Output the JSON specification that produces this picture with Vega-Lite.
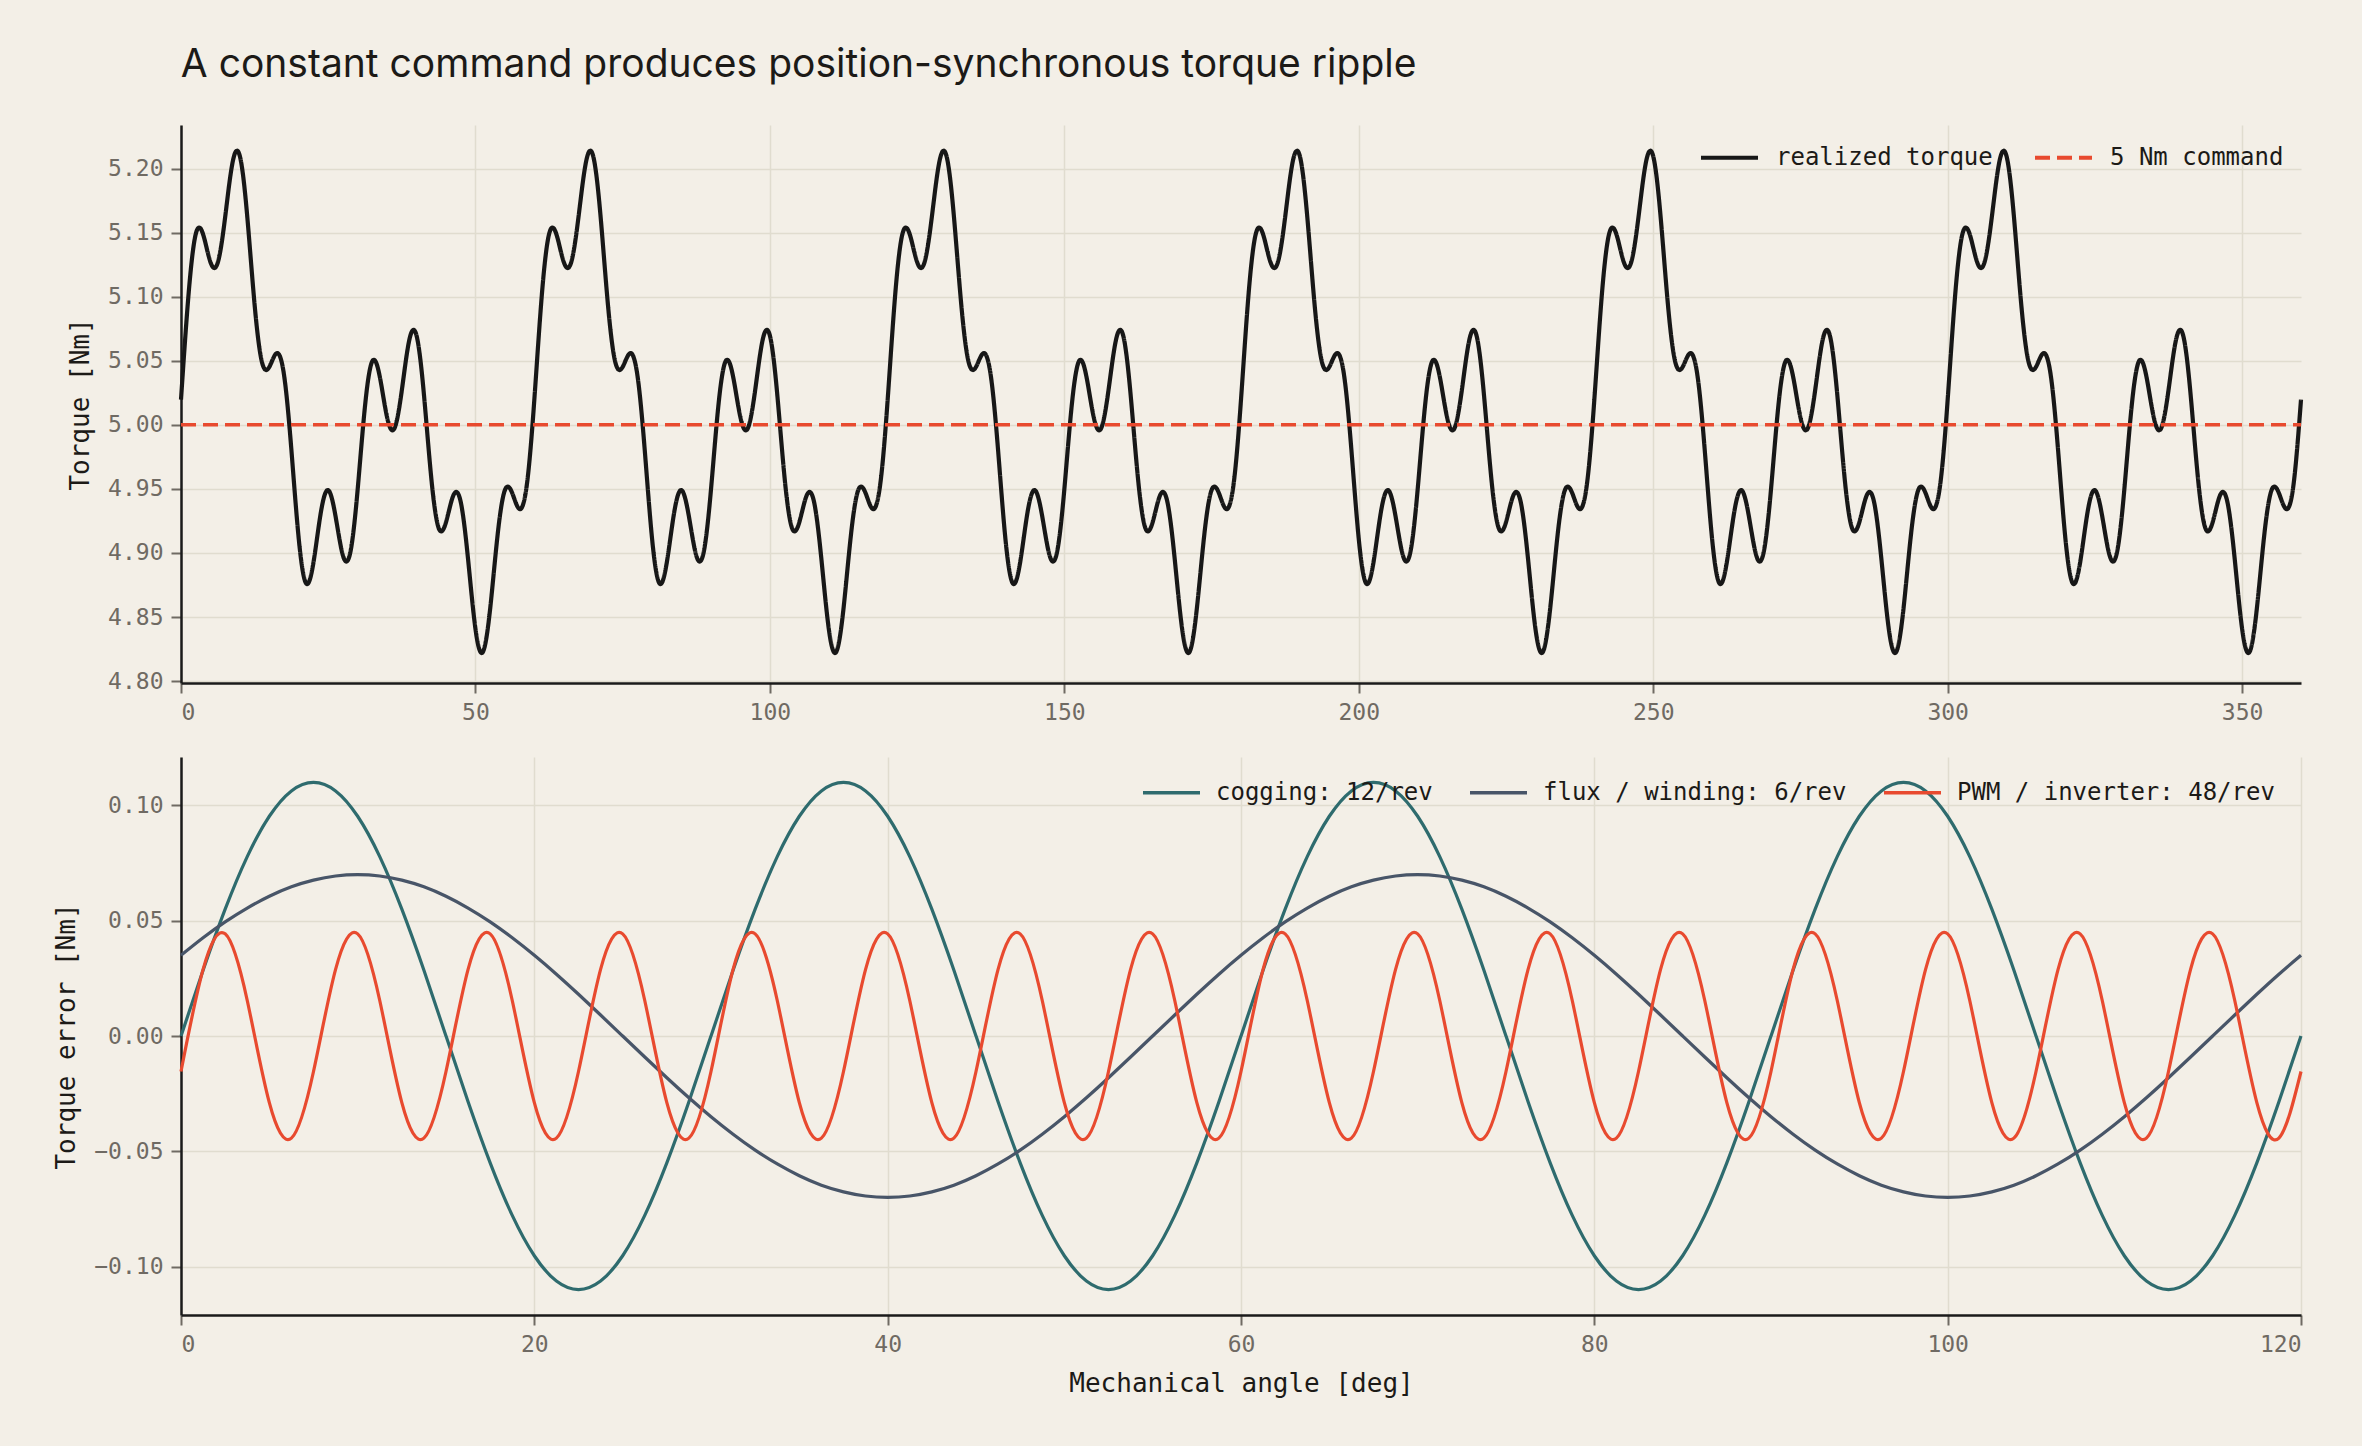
{
  "$schema": "https://vega.github.io/schema/vega-lite/v6.json",
  "background": "#f3efe7",
  "padding": {"left": 53, "top": 46, "right": 52, "bottom": 50},
  "title": {
    "text": "A constant command produces position-synchronous torque ripple",
    "anchor": "start",
    "font": "Inter",
    "fontSize": 39,
    "fontWeight": "normal",
    "color": "#1c1a17",
    "offset": 40,
    "dx": 127
  },
  "datasets": {
    "torque": [
      {"a":0,"t":5.0196},{"a":1.25,"t":5.1},{"a":2.5,"t":5.1488},{"a":3.75,"t":5.1487},{"a":5,"t":5.127},{"a":6.25,"t":5.1267},{"a":7.5,"t":5.1622},{"a":8.75,"t":5.2046},{"a":10,"t":5.2096},{"a":11.25,"t":5.1626},{"a":12.5,"t":5.0937},{"a":13.75,"t":5.0489},{"a":15,"t":5.0452},{"a":16.25,"t":5.0559},{"a":17.5,"t":5.0388},{"a":18.75,"t":4.9802},{"a":20,"t":4.9108},{"a":21.25,"t":4.8762},{"a":22.5,"t":4.8927},{"a":23.75,"t":4.9317},{"a":25,"t":4.949},{"a":26.25,"t":4.9285},{"a":27.5,"t":4.898},{"a":28.75,"t":4.9004},{"a":30,"t":4.9496},{"a":31.25,"t":5.0148},{"a":32.5,"t":5.0498},{"a":33.75,"t":5.0377},{"a":35,"t":5.0058},{"a":36.25,"t":4.9973},{"a":37.5,"t":5.027},{"a":38.75,"t":5.0658},{"a":40,"t":5.0696},{"a":41.25,"t":5.0238},{"a":42.5,"t":4.9585},{"a":43.75,"t":4.9195},{"a":45,"t":4.924},{"a":46.25,"t":4.9449},{"a":47.5,"t":4.9398},{"a":48.75,"t":4.895},{"a":50,"t":4.8408},{"a":51.25,"t":4.8226},{"a":52.5,"t":4.8565},{"a":53.75,"t":4.9135},{"a":55,"t":4.949},{"a":56.25,"t":4.9467},{"a":57.5,"t":4.9342},{"a":58.75,"t":4.954},
      {"a":60,"t":5.0196},{"a":61.25,"t":5.1},{"a":62.5,"t":5.1488},{"a":63.75,"t":5.1487},{"a":65,"t":5.127},{"a":66.25,"t":5.1267},{"a":67.5,"t":5.1622},{"a":68.75,"t":5.2046},{"a":70,"t":5.2096},{"a":71.25,"t":5.1626},{"a":72.5,"t":5.0937},{"a":73.75,"t":5.0489},{"a":75,"t":5.0452},{"a":76.25,"t":5.0559},{"a":77.5,"t":5.0388},{"a":78.75,"t":4.9802},{"a":80,"t":4.9108},{"a":81.25,"t":4.8762},{"a":82.5,"t":4.8927},{"a":83.75,"t":4.9317},{"a":85,"t":4.949},{"a":86.25,"t":4.9285},{"a":87.5,"t":4.898},{"a":88.75,"t":4.9004},{"a":90,"t":4.9496},{"a":91.25,"t":5.0148},{"a":92.5,"t":5.0498},{"a":93.75,"t":5.0377},{"a":95,"t":5.0058},{"a":96.25,"t":4.9973},{"a":97.5,"t":5.027},{"a":98.75,"t":5.0658},{"a":100,"t":5.0696},{"a":101.25,"t":5.0238},{"a":102.5,"t":4.9585},{"a":103.75,"t":4.9195},{"a":105,"t":4.924},{"a":106.25,"t":4.9449},{"a":107.5,"t":4.9398},{"a":108.75,"t":4.895},{"a":110,"t":4.8408},{"a":111.25,"t":4.8226},{"a":112.5,"t":4.8565},{"a":113.75,"t":4.9135},{"a":115,"t":4.949},{"a":116.25,"t":4.9467},{"a":117.5,"t":4.9342},{"a":118.75,"t":4.954},
      {"a":120,"t":5.0196},{"a":121.25,"t":5.1},{"a":122.5,"t":5.1488},{"a":123.75,"t":5.1487},{"a":125,"t":5.127},{"a":126.25,"t":5.1267},{"a":127.5,"t":5.1622},{"a":128.75,"t":5.2046},{"a":130,"t":5.2096},{"a":131.25,"t":5.1626},{"a":132.5,"t":5.0937},{"a":133.75,"t":5.0489},{"a":135,"t":5.0452},{"a":136.25,"t":5.0559},{"a":137.5,"t":5.0388},{"a":138.75,"t":4.9802},{"a":140,"t":4.9108},{"a":141.25,"t":4.8762},{"a":142.5,"t":4.8927},{"a":143.75,"t":4.9317},{"a":145,"t":4.949},{"a":146.25,"t":4.9285},{"a":147.5,"t":4.898},{"a":148.75,"t":4.9004},{"a":150,"t":4.9496},{"a":151.25,"t":5.0148},{"a":152.5,"t":5.0498},{"a":153.75,"t":5.0377},{"a":155,"t":5.0058},{"a":156.25,"t":4.9973},{"a":157.5,"t":5.027},{"a":158.75,"t":5.0658},{"a":160,"t":5.0696},{"a":161.25,"t":5.0238},{"a":162.5,"t":4.9585},{"a":163.75,"t":4.9195},{"a":165,"t":4.924},{"a":166.25,"t":4.9449},{"a":167.5,"t":4.9398},{"a":168.75,"t":4.895},{"a":170,"t":4.8408},{"a":171.25,"t":4.8226},{"a":172.5,"t":4.8565},{"a":173.75,"t":4.9135},{"a":175,"t":4.949},{"a":176.25,"t":4.9467},{"a":177.5,"t":4.9342},{"a":178.75,"t":4.954},
      {"a":180,"t":5.0196},{"a":181.25,"t":5.1},{"a":182.5,"t":5.1488},{"a":183.75,"t":5.1487},{"a":185,"t":5.127},{"a":186.25,"t":5.1267},{"a":187.5,"t":5.1622},{"a":188.75,"t":5.2046},{"a":190,"t":5.2096},{"a":191.25,"t":5.1626},{"a":192.5,"t":5.0937},{"a":193.75,"t":5.0489},{"a":195,"t":5.0452},{"a":196.25,"t":5.0559},{"a":197.5,"t":5.0388},{"a":198.75,"t":4.9802},{"a":200,"t":4.9108},{"a":201.25,"t":4.8762},{"a":202.5,"t":4.8927},{"a":203.75,"t":4.9317},{"a":205,"t":4.949},{"a":206.25,"t":4.9285},{"a":207.5,"t":4.898},{"a":208.75,"t":4.9004},{"a":210,"t":4.9496},{"a":211.25,"t":5.0148},{"a":212.5,"t":5.0498},{"a":213.75,"t":5.0377},{"a":215,"t":5.0058},{"a":216.25,"t":4.9973},{"a":217.5,"t":5.027},{"a":218.75,"t":5.0658},{"a":220,"t":5.0696},{"a":221.25,"t":5.0238},{"a":222.5,"t":4.9585},{"a":223.75,"t":4.9195},{"a":225,"t":4.924},{"a":226.25,"t":4.9449},{"a":227.5,"t":4.9398},{"a":228.75,"t":4.895},{"a":230,"t":4.8408},{"a":231.25,"t":4.8226},{"a":232.5,"t":4.8565},{"a":233.75,"t":4.9135},{"a":235,"t":4.949},{"a":236.25,"t":4.9467},{"a":237.5,"t":4.9342},{"a":238.75,"t":4.954},
      {"a":240,"t":5.0196},{"a":241.25,"t":5.1},{"a":242.5,"t":5.1488},{"a":243.75,"t":5.1487},{"a":245,"t":5.127},{"a":246.25,"t":5.1267},{"a":247.5,"t":5.1622},{"a":248.75,"t":5.2046},{"a":250,"t":5.2096},{"a":251.25,"t":5.1626},{"a":252.5,"t":5.0937},{"a":253.75,"t":5.0489},{"a":255,"t":5.0452},{"a":256.25,"t":5.0559},{"a":257.5,"t":5.0388},{"a":258.75,"t":4.9802},{"a":260,"t":4.9108},{"a":261.25,"t":4.8762},{"a":262.5,"t":4.8927},{"a":263.75,"t":4.9317},{"a":265,"t":4.949},{"a":266.25,"t":4.9285},{"a":267.5,"t":4.898},{"a":268.75,"t":4.9004},{"a":270,"t":4.9496},{"a":271.25,"t":5.0148},{"a":272.5,"t":5.0498},{"a":273.75,"t":5.0377},{"a":275,"t":5.0058},{"a":276.25,"t":4.9973},{"a":277.5,"t":5.027},{"a":278.75,"t":5.0658},{"a":280,"t":5.0696},{"a":281.25,"t":5.0238},{"a":282.5,"t":4.9585},{"a":283.75,"t":4.9195},{"a":285,"t":4.924},{"a":286.25,"t":4.9449},{"a":287.5,"t":4.9398},{"a":288.75,"t":4.895},{"a":290,"t":4.8408},{"a":291.25,"t":4.8226},{"a":292.5,"t":4.8565},{"a":293.75,"t":4.9135},{"a":295,"t":4.949},{"a":296.25,"t":4.9467},{"a":297.5,"t":4.9342},{"a":298.75,"t":4.954},
      {"a":300,"t":5.0196},{"a":301.25,"t":5.1},{"a":302.5,"t":5.1488},{"a":303.75,"t":5.1487},{"a":305,"t":5.127},{"a":306.25,"t":5.1267},{"a":307.5,"t":5.1622},{"a":308.75,"t":5.2046},{"a":310,"t":5.2096},{"a":311.25,"t":5.1626},{"a":312.5,"t":5.0937},{"a":313.75,"t":5.0489},{"a":315,"t":5.0452},{"a":316.25,"t":5.0559},{"a":317.5,"t":5.0388},{"a":318.75,"t":4.9802},{"a":320,"t":4.9108},{"a":321.25,"t":4.8762},{"a":322.5,"t":4.8927},{"a":323.75,"t":4.9317},{"a":325,"t":4.949},{"a":326.25,"t":4.9285},{"a":327.5,"t":4.898},{"a":328.75,"t":4.9004},{"a":330,"t":4.9496},{"a":331.25,"t":5.0148},{"a":332.5,"t":5.0498},{"a":333.75,"t":5.0377},{"a":335,"t":5.0058},{"a":336.25,"t":4.9973},{"a":337.5,"t":5.027},{"a":338.75,"t":5.0658},{"a":340,"t":5.0696},{"a":341.25,"t":5.0238},{"a":342.5,"t":4.9585},{"a":343.75,"t":4.9195},{"a":345,"t":4.924},{"a":346.25,"t":4.9449},{"a":347.5,"t":4.9398},{"a":348.75,"t":4.895},{"a":350,"t":4.8408},{"a":351.25,"t":4.8226},{"a":352.5,"t":4.8565},{"a":353.75,"t":4.9135},{"a":355,"t":4.949},{"a":356.25,"t":4.9467},{"a":357.5,"t":4.9342},{"a":358.75,"t":4.954},
      {"a":360,"t":5.0196}
    ],
    "command": [{"a":0,"t":5},{"a":360,"t":5}],
    "parts": [
      {"a":0,"c":0,"f":0.035,"p":-0.0154},{"a":1.25,"c":0.0285,"f":0.0426,"p":0.0289},{"a":2.5,"c":0.055,"f":0.0495,"p":0.0443},{"a":3.75,"c":0.0778,"f":0.0555,"p":0.0154},{"a":5,"c":0.0953,"f":0.0606,"p":-0.0289},{"a":6.25,"c":0.1063,"f":0.0647,"p":-0.0443},{"a":7.5,"c":0.11,"f":0.0676,"p":-0.0154},{"a":8.75,"c":0.1063,"f":0.0694,"p":0.0289},{"a":10,"c":0.0953,"f":0.07,"p":0.0443},{"a":11.25,"c":0.0778,"f":0.0694,"p":0.0154},{"a":12.5,"c":0.055,"f":0.0676,"p":-0.0289},{"a":13.75,"c":0.0285,"f":0.0647,"p":-0.0443},{"a":15,"c":0,"f":0.0606,"p":-0.0154},{"a":16.25,"c":-0.0285,"f":0.0555,"p":0.0289},{"a":17.5,"c":-0.055,"f":0.0495,"p":0.0443},{"a":18.75,"c":-0.0778,"f":0.0426,"p":0.0154},{"a":20,"c":-0.0953,"f":0.035,"p":-0.0289},{"a":21.25,"c":-0.1063,"f":0.0268,"p":-0.0443},{"a":22.5,"c":-0.11,"f":0.0181,"p":-0.0154},{"a":23.75,"c":-0.1063,"f":0.0091,"p":0.0289},{"a":25,"c":-0.0953,"f":0,"p":0.0443},{"a":26.25,"c":-0.0778,"f":-0.0091,"p":0.0154},{"a":27.5,"c":-0.055,"f":-0.0181,"p":-0.0289},{"a":28.75,"c":-0.0285,"f":-0.0268,"p":-0.0443},{"a":30,"c":0,"f":-0.035,"p":-0.0154},{"a":31.25,"c":0.0285,"f":-0.0426,"p":0.0289},{"a":32.5,"c":0.055,"f":-0.0495,"p":0.0443},{"a":33.75,"c":0.0778,"f":-0.0555,"p":0.0154},{"a":35,"c":0.0953,"f":-0.0606,"p":-0.0289},{"a":36.25,"c":0.1063,"f":-0.0647,"p":-0.0443},{"a":37.5,"c":0.11,"f":-0.0676,"p":-0.0154},{"a":38.75,"c":0.1063,"f":-0.0694,"p":0.0289},{"a":40,"c":0.0953,"f":-0.07,"p":0.0443},{"a":41.25,"c":0.0778,"f":-0.0694,"p":0.0154},{"a":42.5,"c":0.055,"f":-0.0676,"p":-0.0289},{"a":43.75,"c":0.0285,"f":-0.0647,"p":-0.0443},{"a":45,"c":0,"f":-0.0606,"p":-0.0154},{"a":46.25,"c":-0.0285,"f":-0.0555,"p":0.0289},{"a":47.5,"c":-0.055,"f":-0.0495,"p":0.0443},{"a":48.75,"c":-0.0778,"f":-0.0426,"p":0.0154},{"a":50,"c":-0.0953,"f":-0.035,"p":-0.0289},{"a":51.25,"c":-0.1063,"f":-0.0268,"p":-0.0443},{"a":52.5,"c":-0.11,"f":-0.0181,"p":-0.0154},{"a":53.75,"c":-0.1063,"f":-0.0091,"p":0.0289},{"a":55,"c":-0.0953,"f":0,"p":0.0443},{"a":56.25,"c":-0.0778,"f":0.0091,"p":0.0154},{"a":57.5,"c":-0.055,"f":0.0181,"p":-0.0289},{"a":58.75,"c":-0.0285,"f":0.0268,"p":-0.0443},
      {"a":60,"c":0,"f":0.035,"p":-0.0154},{"a":61.25,"c":0.0285,"f":0.0426,"p":0.0289},{"a":62.5,"c":0.055,"f":0.0495,"p":0.0443},{"a":63.75,"c":0.0778,"f":0.0555,"p":0.0154},{"a":65,"c":0.0953,"f":0.0606,"p":-0.0289},{"a":66.25,"c":0.1063,"f":0.0647,"p":-0.0443},{"a":67.5,"c":0.11,"f":0.0676,"p":-0.0154},{"a":68.75,"c":0.1063,"f":0.0694,"p":0.0289},{"a":70,"c":0.0953,"f":0.07,"p":0.0443},{"a":71.25,"c":0.0778,"f":0.0694,"p":0.0154},{"a":72.5,"c":0.055,"f":0.0676,"p":-0.0289},{"a":73.75,"c":0.0285,"f":0.0647,"p":-0.0443},{"a":75,"c":0,"f":0.0606,"p":-0.0154},{"a":76.25,"c":-0.0285,"f":0.0555,"p":0.0289},{"a":77.5,"c":-0.055,"f":0.0495,"p":0.0443},{"a":78.75,"c":-0.0778,"f":0.0426,"p":0.0154},{"a":80,"c":-0.0953,"f":0.035,"p":-0.0289},{"a":81.25,"c":-0.1063,"f":0.0268,"p":-0.0443},{"a":82.5,"c":-0.11,"f":0.0181,"p":-0.0154},{"a":83.75,"c":-0.1063,"f":0.0091,"p":0.0289},{"a":85,"c":-0.0953,"f":0,"p":0.0443},{"a":86.25,"c":-0.0778,"f":-0.0091,"p":0.0154},{"a":87.5,"c":-0.055,"f":-0.0181,"p":-0.0289},{"a":88.75,"c":-0.0285,"f":-0.0268,"p":-0.0443},{"a":90,"c":0,"f":-0.035,"p":-0.0154},{"a":91.25,"c":0.0285,"f":-0.0426,"p":0.0289},{"a":92.5,"c":0.055,"f":-0.0495,"p":0.0443},{"a":93.75,"c":0.0778,"f":-0.0555,"p":0.0154},{"a":95,"c":0.0953,"f":-0.0606,"p":-0.0289},{"a":96.25,"c":0.1063,"f":-0.0647,"p":-0.0443},{"a":97.5,"c":0.11,"f":-0.0676,"p":-0.0154},{"a":98.75,"c":0.1063,"f":-0.0694,"p":0.0289},{"a":100,"c":0.0953,"f":-0.07,"p":0.0443},{"a":101.25,"c":0.0778,"f":-0.0694,"p":0.0154},{"a":102.5,"c":0.055,"f":-0.0676,"p":-0.0289},{"a":103.75,"c":0.0285,"f":-0.0647,"p":-0.0443},{"a":105,"c":0,"f":-0.0606,"p":-0.0154},{"a":106.25,"c":-0.0285,"f":-0.0555,"p":0.0289},{"a":107.5,"c":-0.055,"f":-0.0495,"p":0.0443},{"a":108.75,"c":-0.0778,"f":-0.0426,"p":0.0154},{"a":110,"c":-0.0953,"f":-0.035,"p":-0.0289},{"a":111.25,"c":-0.1063,"f":-0.0268,"p":-0.0443},{"a":112.5,"c":-0.11,"f":-0.0181,"p":-0.0154},{"a":113.75,"c":-0.1063,"f":-0.0091,"p":0.0289},{"a":115,"c":-0.0953,"f":0,"p":0.0443},{"a":116.25,"c":-0.0778,"f":0.0091,"p":0.0154},{"a":117.5,"c":-0.055,"f":0.0181,"p":-0.0289},{"a":118.75,"c":-0.0285,"f":0.0268,"p":-0.0443},
      {"a":120,"c":0,"f":0.035,"p":-0.0154}
    ]
  },
  "spacing": 33,
  "resolve": {
    "scale": {"color": "independent", "strokeDash": "independent", "x": "independent", "y": "independent"},
    "legend": {"color": "independent", "strokeDash": "independent"}
  },
  "vconcat": [
    {
      "width": 2120,
      "height": 558,
      "layer": [
        {
          "data": {"name": "torque"},
          "mark": {"type": "line", "interpolate": "natural", "strokeWidth": 4.2},
          "encoding": {
            "x": {
              "field": "a",
              "type": "quantitative",
              "scale": {"domain": [0, 360], "nice": false, "zero": false},
              "axis": {"values": [0, 50, 100, 150, 200, 250, 300, 350], "title": null}
            },
            "y": {
              "field": "t",
              "type": "quantitative",
              "scale": {"domain": [4.7985, 5.234], "nice": false, "zero": false},
              "axis": {"values": [4.8, 4.85, 4.9, 4.95, 5, 5.05, 5.1, 5.15, 5.2], "format": ".2f", "title": "Torque [Nm]"}
            },
            "color": {
              "datum": "realized torque",
              "type": "nominal",
              "scale": {"domain": ["realized torque", "5 Nm command"], "range": ["#171717", "#e84a2f"]},
              "legend": {"title": null, "symbolStrokeWidth": 4, "orient": "none", "legendX": 1518, "legendY": 2}
            },
            "strokeDash": {
              "datum": "realized torque",
              "type": "nominal",
              "scale": {"domain": ["realized torque", "5 Nm command"], "range": [[1, 0], [15, 7]]},
              "legend": {"title": null, "symbolStrokeWidth": 4, "orient": "none", "legendX": 1518, "legendY": 2}
            }
          }
        },
        {
          "data": {"name": "command"},
          "mark": {"type": "line", "strokeWidth": 3.6},
          "encoding": {
            "x": {"field": "a", "type": "quantitative"},
            "y": {"field": "t", "type": "quantitative"},
            "color": {"datum": "5 Nm command", "type": "nominal"},
            "strokeDash": {"datum": "5 Nm command", "type": "nominal"}
          }
        }
      ]
    },
    {
      "width": 2120,
      "height": 558,
      "data": {"name": "parts"},
      "transform": [{"fold": ["c", "f", "p"], "as": ["k", "v"]}],
      "mark": {"type": "line", "interpolate": "natural", "strokeWidth": 3.2},
      "encoding": {
        "x": {
          "field": "a",
          "type": "quantitative",
          "scale": {"domain": [0, 120], "nice": false, "zero": false},
          "axis": {"values": [0, 20, 40, 60, 80, 100, 120], "title": "Mechanical angle [deg]"}
        },
        "y": {
          "field": "v",
          "type": "quantitative",
          "scale": {"domain": [-0.121, 0.121], "nice": false, "zero": false},
          "axis": {"values": [-0.1, -0.05, 0, 0.05, 0.1], "format": ".2f", "title": "Torque error [Nm]"}
        },
        "color": {
          "field": "k",
          "type": "nominal",
          "scale": {"domain": ["c", "f", "p"], "range": ["#2e6b6e", "#485568", "#e84a2f"]},
          "legend": {
            "title": null,
            "symbolStrokeWidth": 3.4,
            "orient": "none",
            "legendX": 960,
            "legendY": 5,
            "columnPadding": 30,
            "labelOffset": 14,
            "labelExpr": "datum.label == 'c' ? 'cogging: 12/rev' : datum.label == 'f' ? 'flux / winding: 6/rev' : 'PWM / inverter: 48/rev'"
          }
        }
      }
    }
  ],
  "config": {
    "view": {"stroke": null},
    "font": "DejaVu Sans Mono",
    "axis": {
      "labelFont": "DejaVu Sans Mono",
      "labelFontSize": 23,
      "labelColor": "#6f6a63",
      "labelPadding": 8,
      "titleFont": "DejaVu Sans Mono",
      "titleFontSize": 26,
      "titleFontWeight": "normal",
      "titleColor": "#1c1a17",
      "titlePadding": 14,
      "domainColor": "#1a1a1a",
      "domainWidth": 2.5,
      "tickColor": "#6f6a63",
      "tickWidth": 2,
      "tickSize": 10,
      "gridColor": "#e0dccf",
      "gridWidth": 1.5
    },
    "legend": {
      "direction": "horizontal",
      "padding": 0,
      "labelFont": "DejaVu Sans Mono",
      "labelFontSize": 24,
      "labelColor": "#1c1a17",
      "labelLimit": 0,
      "symbolType": "stroke",
      "symbolSize": 3249,
      "columnPadding": 34,
      "labelOffset": 16
    }
  }
}
